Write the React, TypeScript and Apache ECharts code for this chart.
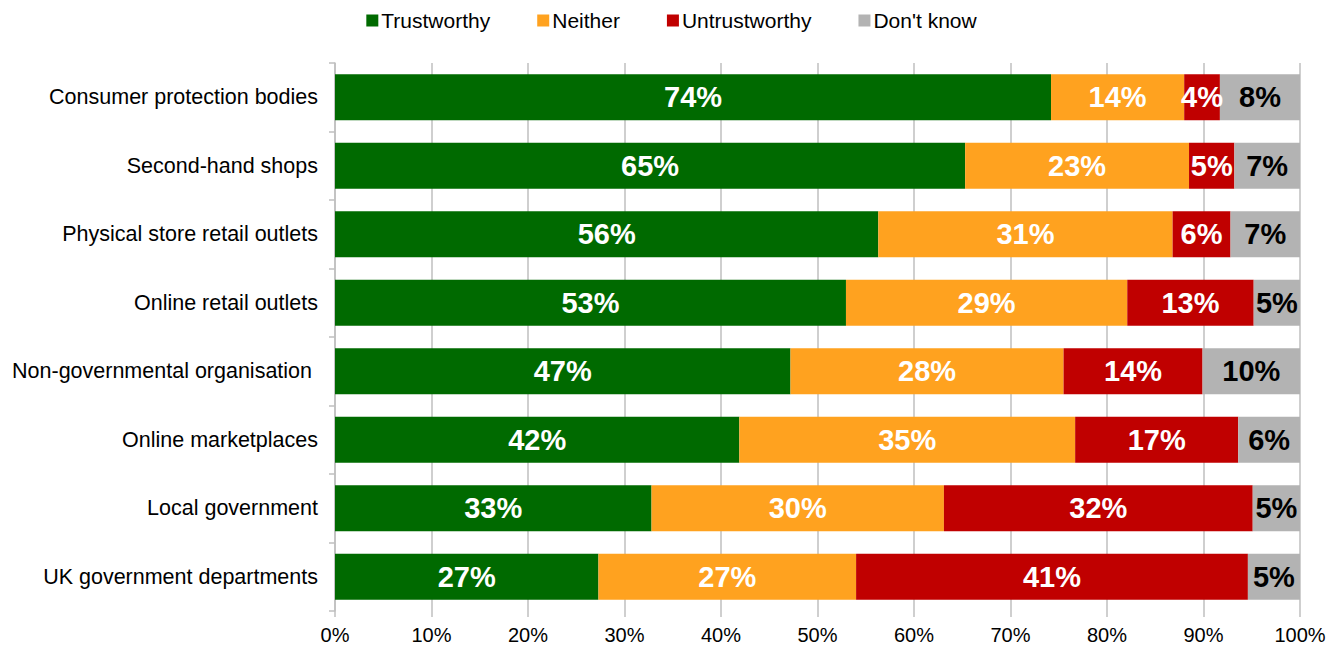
import React, { useEffect, useRef } from "react";
import * as echarts from "echarts";

const categories = [
  "Consumer protection bodies",
  "Second-hand shops",
  "Physical store retail outlets",
  "Online retail outlets",
  "Non-governmental organisation ",
  "Online marketplaces",
  "Local government",
  "UK government departments",
];
const trustworthy = [74.2, 65.3, 56.3, 52.95, 47.2, 41.9, 32.8, 27.3];
const neither = [13.8, 23.2, 30.5, 29.15, 28.3, 34.8, 30.3, 26.7];
const untrustworthy = [3.7, 4.7, 6.0, 13.1, 14.4, 16.9, 32.0, 40.6];
const dontKnow = [8.3, 6.8, 7.2, 4.8, 10.1, 6.4, 4.9, 5.4];
const xTicks = [0, 10, 20, 30, 40, 50, 60, 70, 80, 90, 100];

const FONT = "Liberation Sans, Arial, sans-serif";

export default function App() {
  const ref = useRef<HTMLDivElement>(null);
  useEffect(() => {
    if (!ref.current) return;
    const chart = echarts.init(ref.current, undefined, { renderer: "svg" });
    const mk = (name: string, data: number[], color: string, labelColor: string) => ({
      name,
      type: "bar",
      stack: "total",
      data,
      barCategoryGap: "33%",
      itemStyle: { color },
      label: {
        show: true,
        position: "inside",
        color: labelColor,
        fontFamily: FONT,
        fontWeight: "bold",
        fontSize: 29,
        formatter: (p: any) => Math.round(p.value) + "%",
      },
    });
    chart.setOption({
      animation: false,
      textStyle: { fontFamily: FONT },
      legend: {
        top: 5,
        left: "center",
        itemWidth: 12,
        itemHeight: 12,
        itemGap: 47,
        icon: "rect",
        textStyle: { fontSize: 21, color: "#000", fontFamily: FONT, padding: [0, 0, 0, -2] },
        data: ["Trustworthy", "Neither", "Untrustworthy", "Don't know"],
      },
      grid: { left: 335, right: 43, top: 63, bottom: 39, containLabel: false },
      xAxis: {
        type: "value",
        min: xTicks[0],
        max: xTicks[xTicks.length - 1],
        interval: 10,
        axisLine: { show: false },
        axisTick: { show: true, length: 6, lineStyle: { color: "#bfbfbf", width: 1.5 } },
        splitLine: { show: true, lineStyle: { color: "#bfbfbf", width: 1.5 } },
        axisLabel: {
          fontSize: 20,
          color: "#000",
          fontFamily: FONT,
          margin: 14,
          formatter: (v: number) => v + "%",
        },
      },
      yAxis: {
        type: "category",
        inverse: true,
        data: categories,
        axisLine: { show: true, lineStyle: { color: "#bfbfbf", width: 1.5 } },
        axisTick: { show: true, length: 6, lineStyle: { color: "#bfbfbf", width: 1.5 } },
        axisLabel: { fontSize: 21.5, color: "#000", fontFamily: FONT, margin: 17 },
      },
      series: [
        mk("Trustworthy", trustworthy, "#006a00", "#fff"),
        mk("Neither", neither, "#ffa21f", "#fff"),
        mk("Untrustworthy", untrustworthy, "#c00000", "#fff"),
        mk("Don't know", dontKnow, "#b3b3b3", "#000"),
      ],
    });
    return () => chart.dispose();
  }, []);
  return <div ref={ref} style={{ width: 1343, height: 650, position: "absolute", left: 0, top: 0 }} />;
}
